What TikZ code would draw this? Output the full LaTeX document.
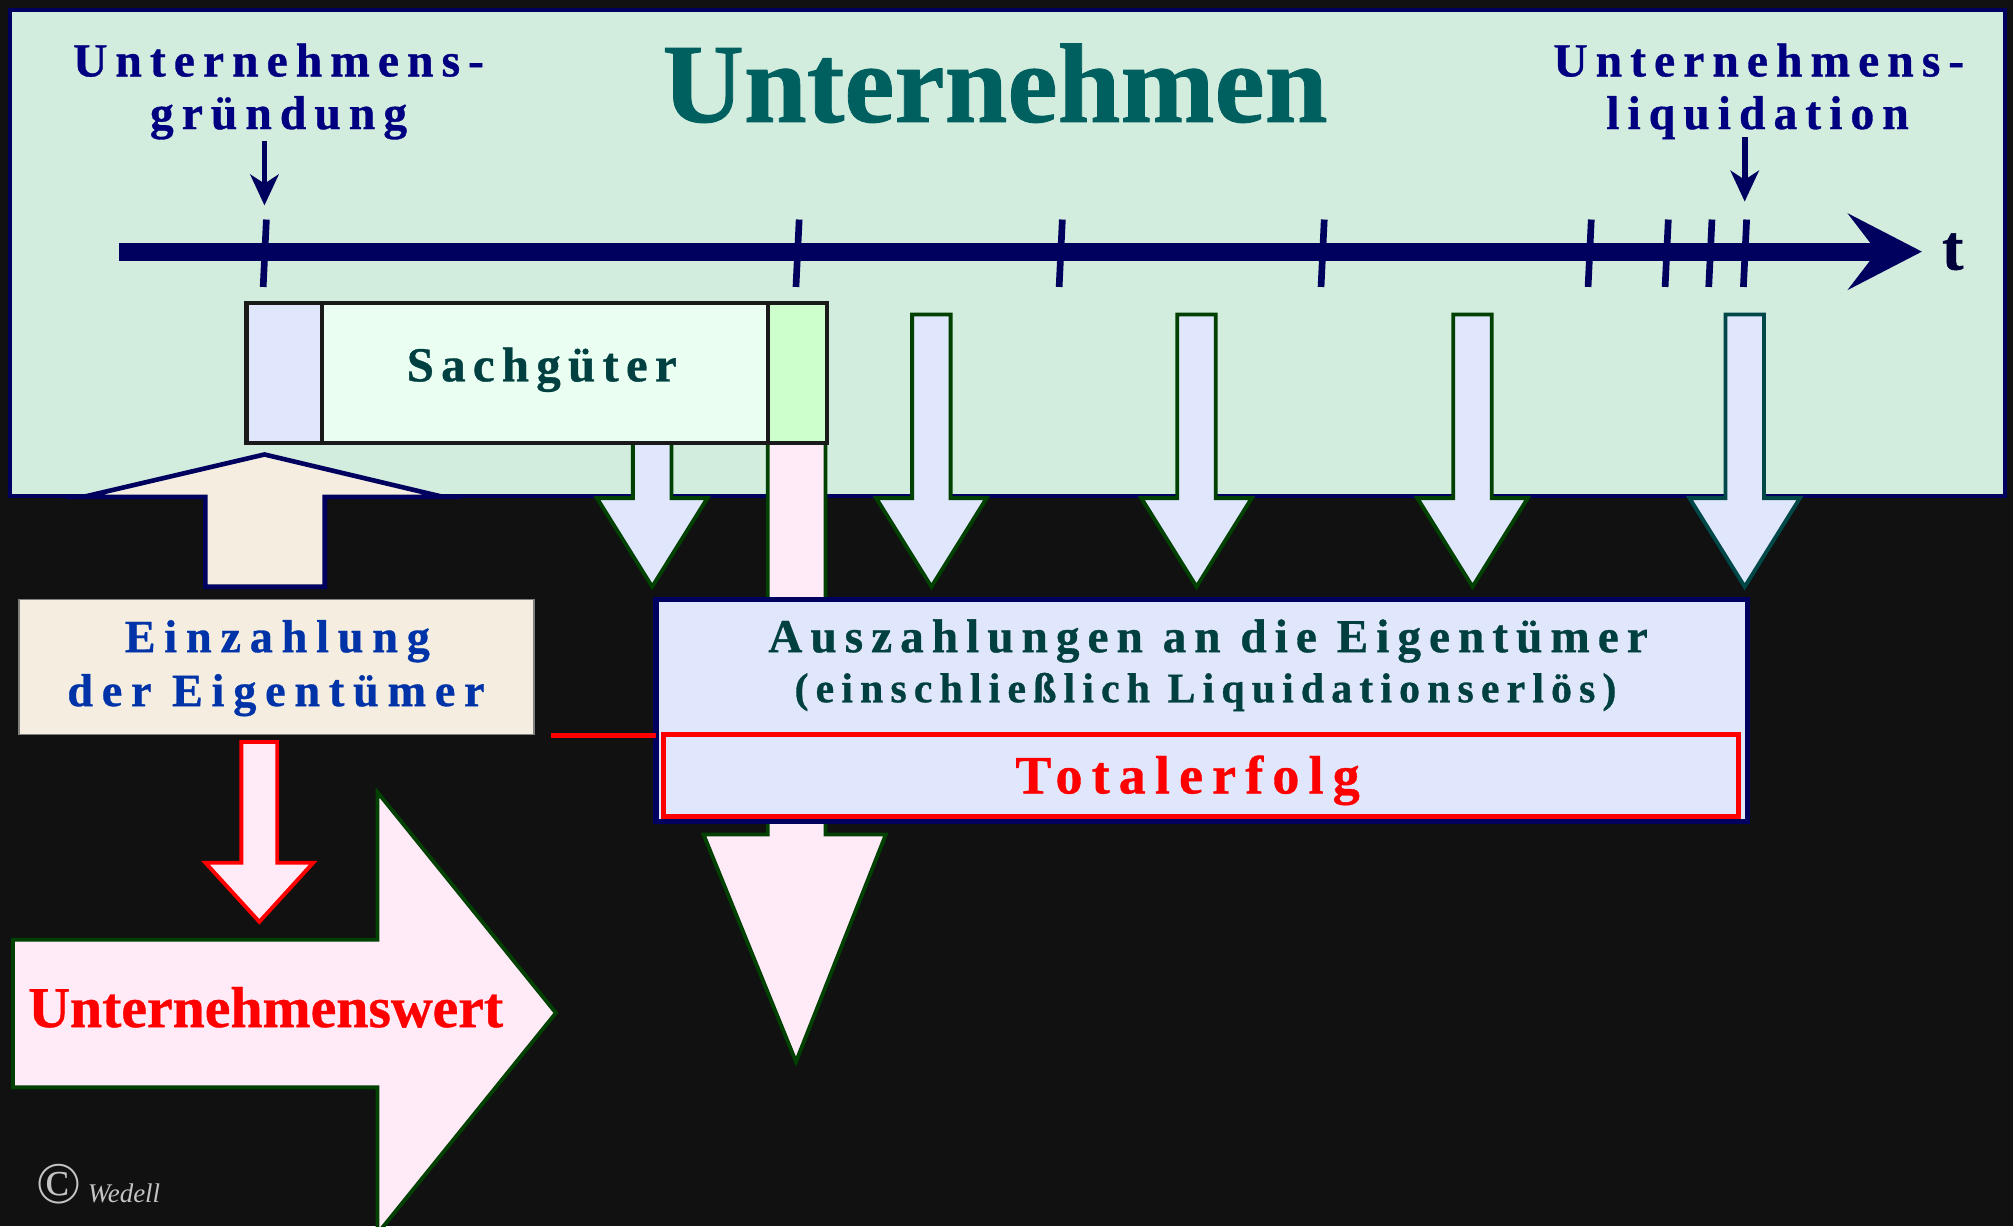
\documentclass[tikz,border=0pt]{standalone}
\usepackage{fontspec}
\setmainfont{Liberation Serif}[BoldFeatures={FakeBold=0.7}]
\newfontfamily\lsfifteen{Liberation Serif}[LetterSpace=15, BoldFeatures={FakeBold=0.7}]
\newfontfamily\lsseventeen{Liberation Serif}[LetterSpace=17, BoldFeatures={FakeBold=0.7}]
\newfontfamily\lsnineteen{Liberation Serif}[LetterSpace=19, BoldFeatures={FakeBold=0.7}]
\usetikzlibrary{arrows.meta,fit}
\definecolor{bgc}{HTML}{111111}
\definecolor{panelfill}{HTML}{D2ECDE}
\definecolor{navyline}{HTML}{00005E}
\definecolor{navytxt}{HTML}{000080}
\definecolor{titlecol}{HTML}{006060}
\definecolor{tealtxt}{HTML}{004040}
\definecolor{bluetxt}{HTML}{0033A8}
\definecolor{pinkfill}{HTML}{FFEAF8}
\definecolor{bluefill}{HTML}{E0E6FC}
\definecolor{beige}{HTML}{F5EEE0}
\definecolor{mintfill}{HTML}{EAFFF2}
\definecolor{greenfill}{HTML}{CCFFCC}
\definecolor{dgreen}{HTML}{004000}
\definecolor{dteal}{HTML}{004848}
\definecolor{boxedge}{HTML}{1A1A1A}
\definecolor{wmark}{HTML}{C4C4C4}
\definecolor{tcol}{HTML}{00003A}
\begin{document}
\begin{tikzpicture}[x=0.5pt,y=-0.5pt,
  box/.style={inner sep=0pt, outer sep=0pt},
  lbl/.style={anchor=base, inner sep=0pt, text=navytxt,
    font=\lsseventeen\bfseries\fontsize{18.5}{21}\selectfont},
  sachtxt/.style={anchor=base, inner sep=0pt, text=tealtxt,
    font=\lsfifteen\bfseries\fontsize{19}{22}\selectfont},
  eintxt/.style={anchor=base, inner sep=0pt, text=bluetxt,
    font=\lsnineteen\bfseries\fontsize{18}{20}\selectfont},
  austxtA/.style={anchor=base, inner sep=0pt, text=tealtxt,
    font=\lsseventeen\bfseries\fontsize{18.4}{21}\selectfont},
  austxtB/.style={anchor=base, inner sep=0pt, text=tealtxt,
    font=\lsseventeen\bfseries\fontsize{16.3}{19}\selectfont},
  tickline/.style={navyline, line width=2.6pt},
  smallarrow/.style={navyline, line width=2.2pt, -{Stealth[length=12pt,width=11pt,inset=3.5pt]}},
  blockarrow/.style={line width=1.5pt, line join=miter}
]
\useasboundingbox (0,0) rectangle (1568,955);
\clip (0,0) rectangle (1568,955);
\fill[bgc] (0,0) rectangle (1568,955);

% top panel
\node[box, fit={(8,8) (1562,386)}, fill=panelfill, draw=navyline, line width=1.6pt] (panel) {};

% title and labels
\node[anchor=base, inner sep=0pt, text=titlecol, font=\bfseries\fontsize{44}{50}\selectfont] (title) at (775,95) {Unternehmen};
\node[lbl] (gr1) at (217,59.5) {Unternehmens-};
\node[lbl] (gr2) at (217,100.5) {gründung};
\node[lbl] (lq1) at (1370,59.5) {Unternehmens-};
\node[lbl] (lq2) at (1369,100.5) {liquidation};

% timeline
\coordinate (tl0) at (93,196);
\coordinate (tl1) at (1463,196);
\draw[navyline, line width=7pt] (tl0) -- (tl1);
\fill[navyline] (1439,166) -- (1497,196) -- (1439,226) -- (1462,196) -- cycle;
\node[anchor=base, inner sep=0pt, text=tcol, font=\bfseries\fontsize{25}{28}\selectfont] (tlab) at (1521,210) {t};
\foreach \tx in {206,621,826,1030,1238,1298,1332,1359}
  \draw[tickline] (\tx+1.5,171) -- (\tx-1,223.5);

% label arrows
\coordinate (ga1) at (206,110);
\coordinate (ga2) at (206,160);
\coordinate (la1) at (1359,107);
\coordinate (la2) at (1359,157);
\draw[smallarrow] (ga1) -- (ga2);
\draw[smallarrow] (la1) -- (la2);

% Einzahlung up arrow
\draw[blockarrow, fill=beige, draw=navyline, line width=1.8pt]
  (160,457) -- (160,387) -- (65,387) -- (206,354) -- (345,387) -- (253,387) -- (253,457) -- cycle;

% long pink arrow behind Auszahlungen box
\draw[blockarrow, fill=pinkfill, draw=dgreen]
  (598,345) -- (598,650) -- (548,650) -- (620,827) -- (690,650) -- (643,650) -- (643,345) -- cycle;

% down arrows
\foreach \cx/\ty/\bc in {508/345/dgreen, 725.5/245/dgreen, 932/245/dgreen, 1147/245/dgreen, 1359/245/dteal}
  \draw[blockarrow, fill=bluefill, draw=\bc]
    (\cx-15,\ty) -- (\cx-15,388) -- (\cx-43,388) -- (\cx,457) -- (\cx+43,388) -- (\cx+15,388) -- (\cx+15,\ty) -- cycle;

% Sachgueter box
\node[box, fit={(192,236) (251,345)}, fill=bluefill, draw=boxedge, line width=1.6pt] (sgl) {};
\node[box, fit={(251,236) (598,345)}, fill=mintfill, draw=boxedge, line width=1.6pt] (sgm) {};
\node[box, fit={(598,236) (644,345)}, fill=greenfill, draw=boxedge, line width=1.6pt] (sgr) {};
\node[sachtxt] (sgtext) at (422,297) {Sachgüter};

% Einzahlung box
\node[box, fit={(15,467) (416,572)}, fill=beige, draw=gray, line width=0.6pt] (ein) {};
\node[eintxt] (ein1) at (216,508) {Einzahlung};
\node[eintxt] (ein2) at (215,550) {der Eigentümer};

% red down arrow
\draw[blockarrow, fill=pinkfill, draw=red]
  (188,578) -- (188,672) -- (160,672) -- (202,718) -- (244,672) -- (216,672) -- (216,578) -- cycle;

% Unternehmenswert arrow
\draw[blockarrow, fill=pinkfill, draw=dgreen]
  (10,732) -- (294,732) -- (294,617) -- (433,789) -- (294,961) -- (294,847) -- (10,847) -- cycle;
\node[anchor=base, inner sep=0pt, text=red, font=\bfseries\fontsize{22.5}{26}\selectfont] (uwert) at (207,800) {Unternehmenswert};

% Auszahlungen box
\node[box, fit={(511,467) (1361,640)}, fill=bluefill, draw=navyline, line width=2pt] (aus) {};
\node[austxtA] (aus1) at (941,508) {Auszahlungen an die Eigentümer};
\node[austxtB] (aus2) at (939,547) {(einschließlich Liquidationserlös)};
\node[box, fit={(517,572) (1354,636)}, fill=bluefill, draw=red, line width=1.8pt] (tot) {};
\node[anchor=base, inner sep=0pt, text=red, font=\lsseventeen\bfseries\fontsize{21}{24}\selectfont] (tottext) at (925,618) {Totalerfolg};

% red connector line
\coordinate (rl) at (429,573);
\draw[red, line width=2pt] (rl) -- (rl -| aus.west);

% watermark
\node[anchor=center, inner sep=0pt, text=wmark, font=\fontsize{23}{26}\selectfont] (copy) at (46,922) {©};
\node[anchor=base west, inner sep=0pt, text=wmark, font=\itshape\fontsize{10.5}{12}\selectfont] (wed) at (68,937) {Wedell};
\end{tikzpicture}
\end{document}
